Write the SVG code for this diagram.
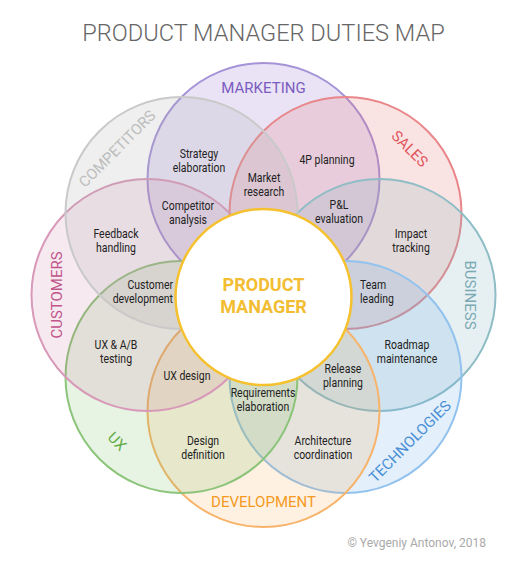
<svg xmlns="http://www.w3.org/2000/svg" width="527" height="574" viewBox="0 0 527 574">
<style>
text{font-family:Roboto,"Noto Sans","Liberation Sans",sans-serif}
.ring{stroke-width:2}
.cat{font-size:15px;text-anchor:middle}
.duty{font-size:12.5px;fill:#222;text-anchor:middle}
.title{font-size:23.6px;fill:#666;text-anchor:middle;font-weight:300}
</style>
<rect width="527" height="574" fill="#fff"/>
<text class="title" x="263.5" y="41">PRODUCT MANAGER DUTIES MAP</text>

<g id="marketing">
<circle class="ring" cx="263.5" cy="179" r="116" fill="#7e57c2" fill-opacity="0.17" stroke="#a593d8"/>
<text class="cat" fill="#7b5cc0" x="263.5" y="88" dy="0.35em">MARKETING</text>
</g>
<g id="sales">
<circle class="ring" cx="345.5" cy="213" r="116" fill="#e57373" fill-opacity="0.2" stroke="#e8868a"/>
<text class="cat" fill="#e0575e" transform="translate(409.9 148.6) rotate(45)" dy="0.35em">SALES</text>
</g>
<g id="business">
<circle class="ring" cx="379.5" cy="295" r="116" fill="#80b3bd" fill-opacity="0.2" stroke="#8fbdc6"/>
<text class="cat" fill="#7aa9b3" transform="translate(470.5 295) rotate(90)" dy="0.35em">BUSINESS</text>
</g>
<g id="technologies">
<circle class="ring" cx="345.5" cy="377" r="116" fill="#64a7e6" fill-opacity="0.18" stroke="#92c2ee"/>
<text class="cat" fill="#4a8fd6" transform="translate(409.9 441.4) rotate(-45)" dy="0.35em">TECHNOLOGIES</text>
</g>
<g id="development">
<circle class="ring" cx="263.5" cy="411" r="116" fill="#f9a13a" fill-opacity="0.15" stroke="#f8b36a"/>
<text class="cat" fill="#f59a1f" x="263.5" y="502" dy="0.35em">DEVELOPMENT</text>
</g>
<g id="ux">
<circle class="ring" cx="181.5" cy="377" r="116" fill="#7cbd66" fill-opacity="0.18" stroke="#8cc47a"/>
<text class="cat" fill="#5fab45" transform="translate(117.1 441.4) rotate(45)" dy="0.35em">UX</text>
</g>
<g id="customers">
<circle class="ring" cx="147.5" cy="295" r="116" fill="#c86a9a" fill-opacity="0.15" stroke="#d898b8"/>
<text class="cat" fill="#c0558a" transform="translate(56.5 295) rotate(-90)" dy="0.35em">CUSTOMERS</text>
</g>
<g id="competitors">
<circle class="ring" cx="181.5" cy="213" r="116" fill="#b0b0b0" fill-opacity="0.2" stroke="#c9c9c9"/>
<text class="cat" fill="#bdbdbd" transform="translate(117.1 148.6) rotate(-45)" dy="0.35em">COMPETITORS</text>
</g>

<g id="product-manager">
<circle cx="263.5" cy="297" r="88" fill="#fff" stroke="#f5c12e" stroke-width="2.5"/>
<text x="263.5" y="290.5" font-size="18" font-weight="bold" fill="#f2bd32" text-anchor="middle">PRODUCT</text>
<text x="263.5" y="313" font-size="18" font-weight="bold" fill="#f2bd32" text-anchor="middle">MANAGER</text>
</g>

<g id="duties" transform="scale(0.84 1)">
<text class="duty" x="236.9" y="158">Strategy</text><text class="duty" x="236.9" y="172">elaboration</text>
<text class="duty" x="314.3" y="182">Market</text><text class="duty" x="314.3" y="196">research</text>
<text class="duty" x="389.3" y="164">4P planning</text>
<text class="duty" x="403.6" y="209">P&amp;L</text><text class="duty" x="403.6" y="223.5">evaluation</text>
<text class="duty" x="223.8" y="210">Competitor</text><text class="duty" x="223.8" y="224">analysis</text>
<text class="duty" x="138.1" y="238">Feedback</text><text class="duty" x="138.1" y="252">handling</text>
<text class="duty" x="489.3" y="238">Impact</text><text class="duty" x="489.3" y="252">tracking</text>
<text class="duty" x="206" y="289" style="text-anchor:end">Customer</text><text class="duty" x="206" y="303" style="text-anchor:end">development</text>
<text class="duty" x="428.6" y="289" style="text-anchor:start">Team</text><text class="duty" x="428.6" y="303" style="text-anchor:start">leading</text>
<text class="duty" x="138.1" y="349">UX &amp; A/B</text><text class="duty" x="138.1" y="363">testing</text>
<text class="duty" x="484.5" y="349">Roadmap</text><text class="duty" x="484.5" y="363">maintenance</text>
<text class="duty" x="222.6" y="380">UX design</text>
<text class="duty" x="408.3" y="373">Release</text><text class="duty" x="408.3" y="387">planning</text>
<text class="duty" x="313.1" y="397">Requirements</text><text class="duty" x="313.1" y="411">elaboration</text>
<text class="duty" x="241.7" y="445">Design</text><text class="duty" x="241.7" y="459">definition</text>
<text class="duty" x="384.5" y="445">Architecture</text><text class="duty" x="384.5" y="459">coordination</text>
</g>

<text x="486" y="547" font-size="12" fill="#aaa" text-anchor="end">© Yevgeniy Antonov, 2018</text>
</svg>
